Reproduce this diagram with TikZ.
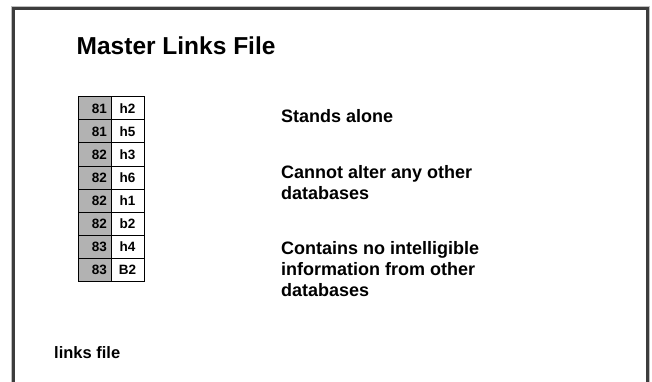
\documentclass[tikz,border=0pt]{standalone}
\usepackage{fontspec}
\setmainfont{Liberation Sans}
\begin{document}
\begin{tikzpicture}[x=1pt,y=-1pt,
  frameline/.style={draw=black!76,line width=3pt},
  numcell/.style={draw=black,line width=1pt,fill=black!30,minimum width=33pt,minimum height=23pt,inner sep=0pt,outer sep=0pt},
  keycell/.style={draw=black,line width=1pt,fill=white,minimum width=33pt,minimum height=23pt,inner sep=0pt,outer sep=0pt},
  celltext/.style={font=\fontsize{13.5}{15}\selectfont\bfseries},
  bodytext/.style={font=\fontsize{18}{20.8}\selectfont\bfseries,align=left,inner sep=0pt,anchor=base west}]
\useasboundingbox (0,0) rectangle (652,382);
\clip (0,0) rectangle (652,382);
% slide frame, open at the bottom edge
\draw[black!25,line width=1pt] (11.5,390) -- (11.5,7) -- (649.5,7) -- (649.5,390);
\draw[frameline] (13.5,390) -- (13.5,9) -- (647.5,9) -- (647.5,390);
% title
\node[font=\fontsize{24.5}{28}\selectfont\bfseries,anchor=base west,inner sep=0pt] (title) at (76.5,55) {Master Links File};
% links table
\foreach \n/\k [count=\i from 0] in {81/h2,81/h5,82/h3,82/h6,82/h1,82/b2,83/h4,83/B2}{
  \node[numcell] (n\i) at (94.5,{108.5+23*\i}) {};
  \node[keycell] (k\i) at (127.5,{108.5+23*\i}) {};
  \node[celltext,anchor=base east,inner sep=0pt] at ([xshift=-4pt,yshift=-4.8pt]n\i.east) {\n};
  \node[celltext,anchor=base,inner sep=0pt] at ([yshift=-4.8pt]k\i.center) {\k};
}
% properties (multi-line nodes sit on the baseline of their last line)
\node[bodytext] (p1) at (281,122.7) {Stands alone};
\node[bodytext] (p2) at (281,199.5) {Cannot alter any other\\databases};
\node[bodytext] (p3) at (281,296) {Contains no intelligible\\information from other\\databases};
% caption
\node[font=\fontsize{16.5}{19}\selectfont\bfseries,anchor=base west,inner sep=0pt] (cap) at (54,358) {links file};
\end{tikzpicture}
\end{document}
